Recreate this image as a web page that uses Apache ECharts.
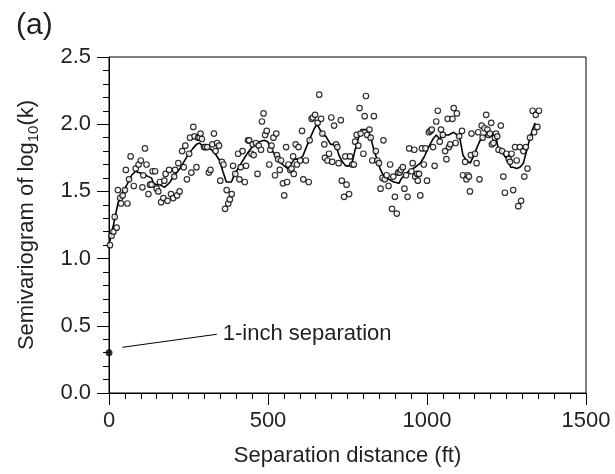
<!DOCTYPE html>
<html>
<head>
<meta charset="utf-8">
<script src="https://cdn.jsdelivr.net/npm/echarts@6/dist/echarts.min.js"></script>
<style>
  html, body { margin: 0; padding: 0; background: #fff; }
  #chart { width: 615px; height: 474px; }
</style>
</head>
<body>
<div id="chart"></div>
<script>
// 散点：分隔距离(ft)，半变异值
var scatterData = [
  [3,1.10],[8,1.17],[14,1.20],[18,1.31],[24,1.23],[28,1.51],[35,1.45],[38,1.41],[43,1.47],[50,1.51],
  [53,1.66],[58,1.41],[63,1.59],[68,1.76],[78,1.54],[84,1.67],[93,1.70],[100,1.73],[105,1.53],[108,1.62],
  [113,1.82],[118,1.70],[124,1.48],[129,1.55],[134,1.55],[137,1.65],[145,1.65],[150,1.52],[155,1.50],[160,1.57],
  [164,1.42],[171,1.45],[174,1.58],[178,1.63],[184,1.43],[189,1.66],[195,1.48],[202,1.45],[205,1.61],[208,1.66],
  [214,1.47],[218,1.71],[222,1.50],
  [230,1.80],[235,1.68],[240,1.84],[245,1.59],[252,1.78],[255,1.90],[259,1.64],[265,1.98],[269,1.91],[275,1.68],
  [280,1.90],[285,1.90],[288,1.93],[292,1.89],[299,1.83],[303,1.83],[309,1.83],[314,1.64],[319,1.66],[325,1.85],
  [330,1.93],[335,1.80],[340,1.86],[346,1.84],[350,1.58],[355,1.72],[360,1.70],[365,1.37],[370,1.51],[375,1.41],
  [380,1.44],[386,1.48],[390,1.69],[397,1.63],[406,1.78],[410,1.59],[414,1.68],[420,1.80],[427,1.57],[431,1.69],
  [437,1.88],[441,1.88],[448,1.78],[452,1.85],
  [455,1.77],[462,1.86],[467,1.63],[471,1.84],[478,1.81],[481,2.02],[486,2.08],[491,1.92],[496,1.95],[504,1.70],
  [507,1.81],[511,1.84],[517,1.90],[522,1.62],[526,1.93],[528,1.77],[532,1.74],[537,1.66],[541,1.73],[547,1.56],
  [551,1.47],[557,1.83],[560,1.57],[564,1.70],[570,1.66],[574,1.67],[579,1.76],[581,1.63],[587,1.85],[591,1.70],
  [596,1.83],[601,1.73],[607,1.95],[611,1.59],[619,1.73],[628,1.57],[631,1.88],[637,2.04],[641,2.05],[648,2.07],
  [656,2.01],[661,2.22],[667,2.04],[671,1.93],[677,1.85],[679,1.75],
  [687,1.73],[692,1.78],[699,2.05],[702,1.72],[708,1.99],[714,1.85],[718,1.83],[722,1.71],[729,2.03],[732,1.58],
  [739,1.46],[743,1.76],[747,1.55],[755,1.48],[758,1.76],[765,1.70],[770,1.70],[774,1.87],[779,1.92],[784,1.84],
  [788,2.12],[791,1.93],[800,1.78],[804,2.06],[808,2.21],[812,1.92],[819,1.96],[823,1.90],[828,1.73],[833,2.06],
  [839,1.80],[844,1.73],[849,1.71],[854,1.52],[860,1.60],[863,1.88],[867,1.59],[873,1.62],[879,1.54],[884,1.70],
  [890,1.37],[894,1.61],[899,1.46],[905,1.335],[909,1.64],
  [914,1.64],[918,1.66],[924,1.68],[929,1.52],[934,1.62],[939,1.46],[944,1.82],[951,1.65],[955,1.71],[960,1.81],
  [963,1.61],[969,1.63],[971,1.58],[975,1.63],[979,1.47],[984,1.82],[990,1.70],[995,1.82],[1000,1.58],[1006,1.94],
  [1011,1.95],[1015,1.96],[1019,1.83],[1024,1.69],[1029,2.02],[1034,2.10],[1040,1.87],[1044,1.96],[1050,1.92],[1057,1.80],
  [1061,1.74],[1065,2.04],[1069,1.83],[1073,1.85],[1080,2.04],[1084,2.12],[1090,1.86],[1094,2.08],[1101,1.91],[1110,1.95],
  [1113,1.62],[1120,1.72],[1124,1.59],[1128,1.62],[1132,1.61],[1135,1.50],[1138,1.77],[1140,1.93],
  [1151,1.78],[1156,1.71],[1161,1.94],[1165,1.59],[1172,1.99],[1175,1.90],[1181,1.97],[1186,2.07],[1190,1.96],[1194,1.92],
  [1198,1.93],[1202,2.01],[1204,1.85],[1209,1.86],[1214,1.90],[1217,1.93],[1221,1.91],[1225,1.81],[1232,1.99],[1236,1.80],
  [1240,1.61],[1245,1.49],[1250,1.78],[1257,1.74],[1261,1.72],[1266,1.78],[1271,1.51],[1277,1.83],[1282,1.73],[1287,1.39],
  [1292,1.83],[1296,1.43],[1303,1.80],[1306,1.61],[1311,1.83],[1316,1.67],[1324,1.90],[1332,2.10],[1337,1.94],[1342,2.07],
  [1347,1.98],[1352,2.10]
]

// 平滑曲线
var smoothData = [
  [3,1.13],[14,1.25],[29,1.42],[45,1.50],[61,1.57],[71,1.62],[84,1.65],[93,1.64],[108,1.63],[124,1.61],
  [134,1.60],[139,1.56],[150,1.55],[160,1.55],[174,1.53],[184,1.55],[192,1.57],[202,1.61],[213,1.64],[223,1.67],
  [248,1.77],[264,1.82],[275,1.85],[285,1.86],[296,1.83],[306,1.83],[322,1.81],[334,1.78],[348,1.73],[358,1.65],
  [369,1.57],[376,1.57],[385,1.57],[395,1.63],[406,1.67],[421,1.73],[437,1.79],[453,1.84],[462,1.86],[473,1.87],
  [488,1.88],[499,1.87],[509,1.82],[525,1.76],[541,1.71],[551,1.69],[562,1.67],[572,1.70],[583,1.74],[598,1.74],
  [609,1.76],[619,1.82],[633,1.90],[646,1.97],[654,2.00],[661,1.97],[672,1.92],[682,1.91],[687,1.90],[697,1.85],
  [713,1.85],[723,1.77],[734,1.72],[744,1.69],[755,1.69],[765,1.72],[773,1.80],[781,1.87],[793,1.96],[802,1.96],
  [812,1.96],[823,1.90],[833,1.81],[844,1.73],[854,1.66],[865,1.61],[880,1.59],[896,1.57],[912,1.56],[918,1.59],
  [932,1.63],[948,1.66],[963,1.68],[979,1.71],[992,1.76],[1005,1.83],[1019,1.89],[1029,1.92],[1040,1.89],[1050,1.92],
  [1068,1.92],[1084,1.94],[1094,1.92],[1103,1.90],[1113,1.77],[1124,1.73],[1136,1.71],[1146,1.76],[1156,1.82],[1167,1.88],
  [1179,1.91],[1190,1.93],[1200,1.92],[1211,1.92],[1217,1.90],[1224,1.82],[1235,1.80],[1245,1.76],[1256,1.73],[1263,1.68],
  [1271,1.68],[1282,1.67],[1292,1.68],[1303,1.71],[1313,1.80],[1324,1.90],[1332,1.96],[1340,2.01]
]

// 1英寸间隔点
var oneInchPoint = [[0, 0.3]]
var leaderLine = [[42, 0.34], [339, 0.437]]
var leaderText = '1-inch separation'

var xMin = 0, xMax = 1500, xStep = 500
var yMin = 0, yMax = 2.5, yStep = 0.5

var textColor = '#231f20'
var fontFamily = 'Liberation Sans, Arial, sans-serif'

var myChart = echarts.init(document.getElementById('chart'))
var option = {
  animation: false,
  backgroundColor: '#fff',
  textStyle: { fontFamily: fontFamily, color: textColor },
  title: {
    text: '(a)',
    left: 11,
    top: 6,
    textStyle: { fontSize: 30, fontWeight: 'normal', color: textColor, fontFamily: fontFamily }
  },
  grid: {
    left: 109,
    right: 29,
    top: 57,
    bottom: 81,
    show: true,
    borderColor: '#000',
    borderWidth: 1,
    backgroundColor: 'transparent'
  },
  xAxis: {
    type: 'value',
    min: xMin,
    max: xMax,
    interval: xStep,
    name: 'Separation distance (ft)',
    nameLocation: 'middle',
    nameGap: 52,
    nameTextStyle: { fontSize: 22, color: textColor, fontFamily: fontFamily },
    axisLine: { show: true, onZero: false, lineStyle: { color: '#000', width: 1 } },
    axisTick: { show: true, inside: false, length: 12, lineStyle: { color: '#000' } },
    minorTick: { show: true, splitNumber: 10, length: 6, lineStyle: { color: '#000' } },
    axisLabel: {
      fontSize: 22,
      color: textColor,
      margin: 17,
      fontFamily: fontFamily,
      formatter: function (v) { return String(v) }
    },
    splitLine: { show: false }
  },
  yAxis: {
    type: 'value',
    min: yMin,
    max: yMax,
    interval: yStep,
    name: 'Semivariogram of log{sub|10}(k)',
    nameLocation: 'middle',
    nameGap: 68,
    nameRotate: 90,
    nameTextStyle: {
      fontSize: 22,
      color: textColor,
      fontFamily: fontFamily,
      lineHeight: 28,
      rich: {
        sub: { fontSize: 15, color: textColor, fontFamily: fontFamily, verticalAlign: 'bottom', lineHeight: 28, padding: [9, 0, 0, 0] }
      }
    },
    axisLine: { show: true, onZero: false, lineStyle: { color: '#000', width: 1 } },
    axisTick: { show: true, inside: false, length: 12, lineStyle: { color: '#000' } },
    minorTick: { show: true, splitNumber: 5, length: 6, lineStyle: { color: '#000' } },
    axisLabel: {
      fontSize: 22,
      color: textColor,
      margin: 18,
      fontFamily: fontFamily,
      formatter: function (v) { return v.toFixed(1) }
    },
    splitLine: { show: false }
  },
  series: [
    {
      name: 'smooth',
      type: 'line',
      data: smoothData,
      showSymbol: false,
      symbol: 'none',
      lineStyle: { color: '#000', width: 1.6 },
      z: 3
    },
    {
      name: 'points',
      type: 'scatter',
      data: scatterData,
      symbol: 'circle',
      symbolSize: 5.5,
      clip: false,
      itemStyle: { color: '#fff', borderColor: '#000', borderWidth: 1.2 },
      z: 4
    },
    {
      name: 'oneInch',
      type: 'scatter',
      data: oneInchPoint,
      symbol: 'circle',
      symbolSize: 7,
      clip: false,
      itemStyle: { color: '#000' },
      z: 5
    },
    {
      name: 'leader',
      type: 'line',
      data: leaderLine,
      showSymbol: false,
      symbol: 'none',
      lineStyle: { color: '#000', width: 1 },
      endLabel: {
        show: true,
        formatter: leaderText,
        fontSize: 22,
        color: textColor,
        fontFamily: fontFamily,
        distance: 6
      },
      z: 5
    }
  ]
}
myChart.setOption(option, true)
</script>
</body>
</html>
